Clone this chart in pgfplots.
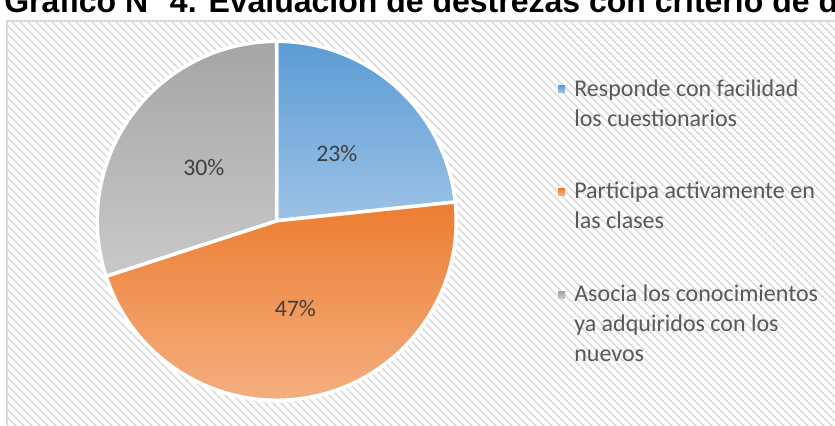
\documentclass[border=0pt]{standalone}
\usepackage{pgfplots}
\pgfplotsset{compat=1.18}
\usepackage{pgfplotstable}
\usetikzlibrary{patterns.meta}
\usepackage{fontspec}
\setmainfont{Carlito}
\newfontfamily\titlefont{Liberation Sans}
\definecolor{blueT}{HTML}{5B9BD5}
\definecolor{blueB}{HTML}{9DC3E6}
\definecolor{orangeT}{HTML}{ED7D31}
\definecolor{orangeB}{HTML}{F4B183}
\definecolor{grayT}{HTML}{A5A5A5}
\definecolor{grayB}{HTML}{C9C9C9}
\definecolor{legtext}{HTML}{595959}
\definecolor{labtext}{HTML}{404040}
\definecolor{hatch}{HTML}{DEDEDE}
\definecolor{frame}{HTML}{D9D9D9}
\newcommand\legfont{\fontsize{18}{22.5}\selectfont}
\newcommand\labfont{\fontsize{17.8}{20}\selectfont}

\pgfplotstableread{
share top bottom
23.33 blueT blueB
46.67 orangeT orangeB
30.00 grayT grayB
}\piedata

\begin{document}
\begin{tikzpicture}
\begin{axis}[name=ax, hide axis, scale only axis,
  width=626.25pt, height=318.75pt,
  xmin=0, xmax=835, ymin=0, ymax=425, clip=false,
  legend style={at={(axis cs:558,350)}, anchor=north west,
    draw=none, fill=none, inner sep=0pt, outer sep=0pt,
    row sep=60pt, column sep=7pt, font=\legfont, text=legtext,
    cells={anchor=base west}, nodes={inner sep=0pt}},
]
% chart area background
\fill[white] (axis cs:7,0) rectangle (axis cs:845,404);
\fill[pattern={Lines[angle=-45,distance=4pt,line width=1.5pt]}, pattern color=hatch]
  (axis cs:7,0) rectangle (axis cs:845,404);
\draw[frame, line width=1.2pt] (axis cs:7,0) -- (axis cs:7,404) -- (axis cs:845,404);
% title (cut at top like the reference)
\node[anchor=base west, inner sep=0pt, font=\titlefont\bfseries\fontsize{24}{28}\selectfont]
  at (axis cs:4,412) {Gráfico N° 4. Evaluación de destrezas con criterio de desempeño};
% legend
\addlegendimage{legend image code/.code={\shade[draw=none,top color=blueT,bottom color=blueB] (0pt,2.8pt) rectangle (5.25pt,8pt);}}
\addlegendentry{\begin{tabular}[t]{@{}l@{}}Responde con facilidad\\los cuestionarios\end{tabular}}
\addlegendimage{legend image code/.code={\shade[draw=none,top color=orangeT,bottom color=orangeB] (0pt,2.8pt) rectangle (5.25pt,8pt);}}
\addlegendentry{\begin{tabular}[t]{@{}l@{}}Participa activamente en\\las clases\end{tabular}}
\addlegendimage{legend image code/.code={\shade[draw=none,top color=grayT,bottom color=grayB] (0pt,2.8pt) rectangle (5.25pt,8pt);}}
\addlegendentry{\begin{tabular}[t]{@{}l@{}}Asocia los conocimientos\\ya adquiridos con los\\nuevos\end{tabular}}
% pie slices from the table
\gdef\startang{90}
\pgfplotsinvokeforeach{0,1,2}{
  \pgfplotstablegetelem{#1}{share}\of\piedata \let\sh\pgfplotsretval
  \pgfplotstablegetelem{#1}{top}\of\piedata \let\ct\pgfplotsretval
  \pgfplotstablegetelem{#1}{bottom}\of\piedata \let\cb\pgfplotsretval
  \pgfmathsetmacro{\endang}{\startang-3.6*\sh}
  \pgfmathsetmacro{\midang}{(\startang+\endang)/2}
  \pgfmathsetmacro{\lx}{276.7+90*cos(\midang)}
  \pgfmathsetmacro{\ly}{204.2+90*sin(\midang)}
  \edef\slicecmd{\noexpand\shadedraw[top color=\ct, bottom color=\cb, draw=white,
    line width=2.6pt, line join=round] (axis cs:276.7,204.2) -- ++(\startang:134.6pt)
    arc[start angle=\startang, end angle=\endang, radius=134.6pt] -- cycle;}
  \slicecmd
  \edef\labcmd{\noexpand\node[text=labtext, font=\noexpand\labfont, inner sep=0pt]
    at (axis cs:\lx,\ly) {\noexpand\pgfmathprintnumber[fixed,precision=0,assume math mode=true]{\sh}\noexpand\%};}
  \labcmd
  \global\let\startang\endang
}
\end{axis}
\pgfresetboundingbox
\useasboundingbox (ax.south west) rectangle (ax.north east);
\end{tikzpicture}
\end{document}
